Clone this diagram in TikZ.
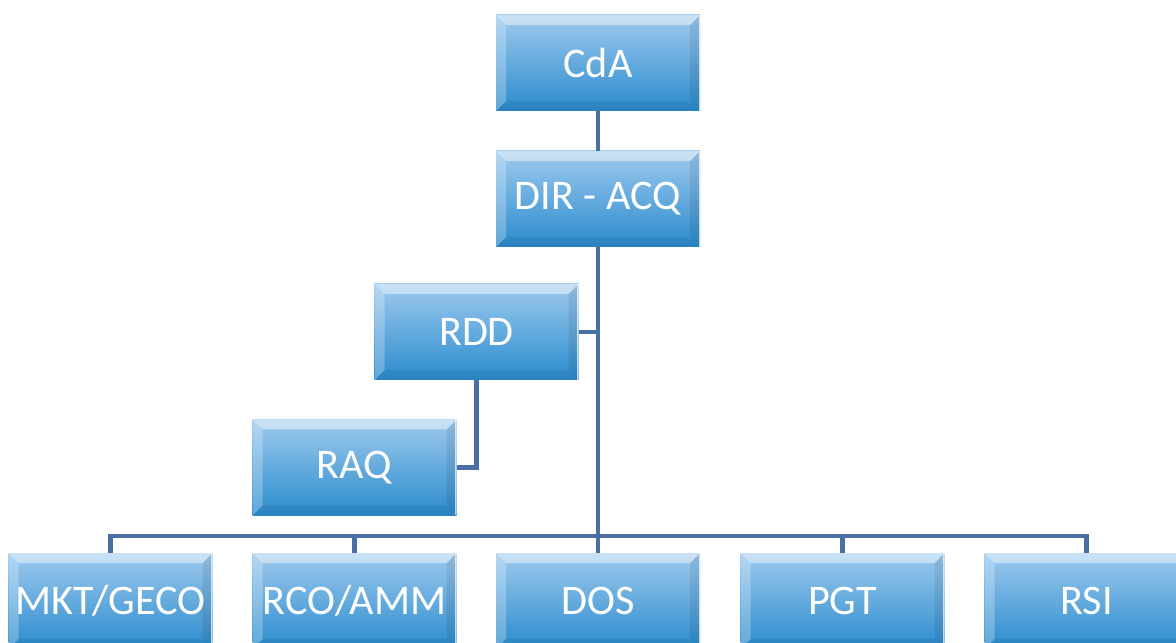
\documentclass[tikz,border=0pt]{standalone}
\usepackage{fontspec}
\setmainfont{Carlito}
\usetikzlibrary{calc}
\definecolor{boxtop}{HTML}{9ECAEE}
\definecolor{boxbot}{HTML}{2A8BCD}
\definecolor{linkblue}{HTML}{4A6FA5}
\tikzset{
    orgbox/.style={minimum width=4.08cm, minimum height=1.92cm, inner sep=0pt,
        top color=boxtop, bottom color=boxbot, text=white,
        font=\fontsize{24}{28}\selectfont,
        path picture={
            % smussatura del bordo
            \fill[white,opacity=.45] (path picture bounding box.north west) -- (path picture bounding box.north east)
                -- ++(-.2,-.2) -- ($(path picture bounding box.north west)+(.2,-.2)$) -- cycle;
            \fill[white,opacity=.25] (path picture bounding box.north west) -- ++(.2,-.2)
                -- ($(path picture bounding box.south west)+(.2,.2)$) -- (path picture bounding box.south west) -- cycle;
            \fill[black,opacity=.08] (path picture bounding box.north east) -- ++(-.2,-.2)
                -- ($(path picture bounding box.south east)+(-.2,.2)$) -- (path picture bounding box.south east) -- cycle;
            \fill[black,opacity=.06] (path picture bounding box.south west) -- ++(.2,.2)
                -- ($(path picture bounding box.south east)+(-.2,.2)$) -- (path picture bounding box.south east) -- cycle;
            \draw[white,opacity=.7,line width=1.2pt] (path picture bounding box.north east) -- (path picture bounding box.south east);
        }},
    link/.style={draw=linkblue, line width=2.8pt}
}
\begin{document}
\begin{tikzpicture}
    \useasboundingbox (0,0) rectangle (23.52,12.84);

    \node[orgbox] (cda) at (11.96,11.58) {CdA};
    \node[orgbox] (dir) at (11.96,8.86) {DIR - ACQ};
    \node[orgbox] (rdd) at (9.53,6.20) {RDD};
    \node[orgbox] (raq) at (7.09,3.49) {RAQ};

    \node[orgbox] (mkt) at (2.21,0.82) {MKT/GECO};
    \node[orgbox] (rco) at (7.09,0.82) {RCO/AMM};
    \node[orgbox] (dos) at (11.96,0.82) {DOS};
    \node[orgbox] (pgt) at (16.85,0.82) {PGT};
    \node[orgbox] (rsi) at (21.73,0.82) {RSI};

    \coordinate (bus) at (11.96,2.12);

    \draw[link] (cda) -- (dir);
    \draw[link] (dir.south) -- (dos.north);
    \draw[link] (rdd.east) -- (rdd.east -| dir.south);
    \draw[link] (rdd.south) |- (raq.east);
    \draw[link] (mkt.north) |- (bus) -| (rsi.north);
    \draw[link] (rco.north) -- (rco.north |- bus);
    \draw[link] (pgt.north) -- (pgt.north |- bus);
\end{tikzpicture}
\end{document}
